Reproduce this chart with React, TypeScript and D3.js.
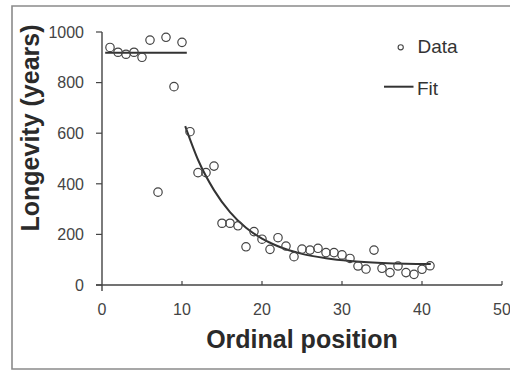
import React from "react";
import * as d3 from "d3";

const positions = [1,2,3,4,5,6,7,8,9,10,11,12,13,14,15,16,17,18,19,20,21,22,23,24,25,26,27,28,29,30,31,32,33,34,35,36,37,38,39,40,41];
const longevity = [939,920,912,920,900,968,367,979,784,959,606,444,444,470,244,244,234,151,211,181,141,187,154,112,142,138,145,128,128,119,105,75,63,138,66,49,75,49,42,62,76];

const fitFlatX = [0.4, 10.6];
const fitFlatY = [918, 918];
const fitCurveX = [10.4,12,14,16,18,20,22,25,28,31,35,38,41.1];
const fitCurveY = [628,495,375,288,226,183,153,123,106,95,87,84,83];

const xTicks = [0,10,20,30,40,50];
const yTicks = [0,200,400,600,800,1000];

export default function App() {
  const W = 510, H = 371;
  const x = d3.scaleLinear().domain([0, 50]).range([102, 502]);
  const y = d3.scaleLinear().domain([0, 1000]).range([285, 32]);
  const line = d3.line<[number, number]>().x(d => x(d[0])).y(d => y(d[1])).curve(d3.curveMonotoneX);
  const flat = line(fitFlatX.map((v, i) => [v, fitFlatY[i]]));
  const curve = line(fitCurveX.map((v, i) => [v, fitCurveY[i]]));
  const font = "Liberation Sans, Arial, sans-serif";
  const axisColor = "#444";
  return (
    <div style={{ position: "absolute", left: 0, top: 0 }}>
      <svg width={W} height={H} style={{ display: "block", background: "#fff" }}>
        <rect x={0} y={0} width={W} height={H} fill="#fff" />
        {/* frame */}
        <path d={`M${W + 2},6 H12 V369 H${W + 2}`} fill="none" stroke="#8a8a8a" strokeWidth={1.6} />
        {/* axes */}
        <line x1={x(0)} x2={x(0)} y1={y(1000)} y2={291} stroke={axisColor} strokeWidth={1.4} />
        <line x1={96} x2={x(50)} y1={y(0)} y2={y(0)} stroke={axisColor} strokeWidth={1.4} />
        {yTicks.map(t => (
          <g key={"y" + t}>
            <line x1={x(0) - 6} x2={x(0)} y1={y(t)} y2={y(t)} stroke={axisColor} strokeWidth={1.2} />
            <text x={84} y={y(t) + 5.7} textAnchor="end" fontFamily={font} fontSize={16} fill="#444">{t}</text>
          </g>
        ))}
        {xTicks.map(t => (
          <g key={"x" + t}>
            {t > 0 && <line x1={x(t)} x2={x(t)} y1={y(0)} y2={y(0) - 4} stroke={axisColor} strokeWidth={1.2} />}
            <text x={x(t)} y={315} textAnchor="middle" fontFamily={font} fontSize={16} fill="#444">{t}</text>
          </g>
        ))}
        {/* titles */}
        <text x={302} y={348} textAnchor="middle" fontFamily={font} fontSize={25} fontWeight="bold" fill="#2a2a2a">Ordinal position</text>
        <text transform="translate(38.5,128) rotate(-90)" textAnchor="middle" fontFamily={font} fontSize={25} fontWeight="bold" fill="#2a2a2a">Longevity (years)</text>
        {/* fit */}
        <path d={flat ?? ""} fill="none" stroke="#333" strokeWidth={2} />
        <path d={curve ?? ""} fill="none" stroke="#333" strokeWidth={2} />
        {/* data */}
        {positions.map((p, i) => (
          <circle key={i} cx={x(p)} cy={y(longevity[i])} r={4.2} fill="none" stroke="#444" strokeWidth={1.2} />
        ))}
        {/* legend */}
        <circle cx={400.7} cy={47.3} r={2.6} fill="none" stroke="#444" strokeWidth={1.1} />
        <text x={417.5} y={53} fontFamily={font} fontSize={19} fill="#333">Data</text>
        <line x1={384} x2={413.5} y1={86.7} y2={86.7} stroke="#333" strokeWidth={2} />
        <text x={417} y={95} fontFamily={font} fontSize={19} fill="#333">Fit</text>
      </svg>
    </div>
  );
}
